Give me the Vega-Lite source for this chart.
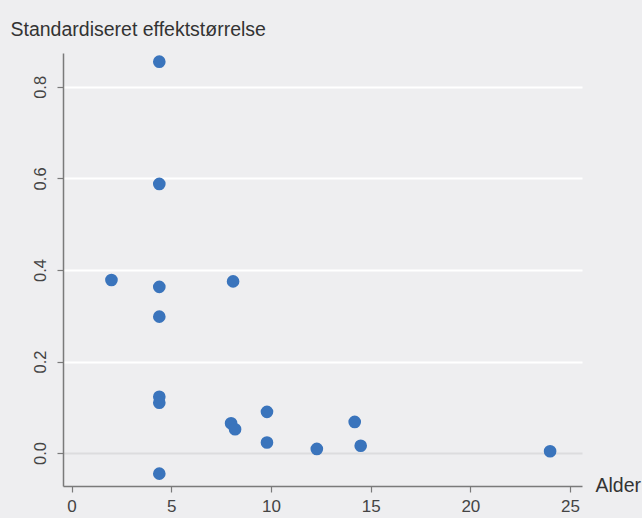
{
  "$schema": "https://vega.github.io/schema/vega-lite/v6.json",
  "width": 519,
  "height": 433,
  "autosize": "none",
  "padding": {"left": 63, "top": 53, "right": 60, "bottom": 32},
  "background": "#eeeef0",
  "config": {
    "view": {"stroke": null, "fill": "#eeeef0"},
    "font": "Liberation Sans",
    "axis": {
      "labelFont": "Liberation Sans",
      "titleFont": "Liberation Sans",
      "labelColor": "#444444",
      "titleColor": "#333333",
      "titleFontWeight": "normal",
      "domainColor": "#7a7a7a",
      "domainWidth": 1.5,
      "tickColor": "#7a7a7a",
      "tickWidth": 1.2,
      "tickSize": 6
    }
  },
  "data": {
    "values": [
      {"alder": 4.4, "effekt": 0.855},
      {"alder": 4.4, "effekt": 0.588},
      {"alder": 2.0, "effekt": 0.378},
      {"alder": 4.4, "effekt": 0.363},
      {"alder": 8.1, "effekt": 0.375},
      {"alder": 4.4, "effekt": 0.298},
      {"alder": 4.4, "effekt": 0.123},
      {"alder": 4.4, "effekt": 0.11},
      {"alder": 4.4, "effekt": -0.045},
      {"alder": 8.0, "effekt": 0.065},
      {"alder": 8.2, "effekt": 0.052},
      {"alder": 9.8, "effekt": 0.09},
      {"alder": 9.8, "effekt": 0.023},
      {"alder": 12.3, "effekt": 0.009},
      {"alder": 14.2, "effekt": 0.068},
      {"alder": 14.5, "effekt": 0.016},
      {"alder": 24.0, "effekt": 0.004}
    ]
  },
  "mark": {"type": "point", "shape": "circle", "filled": true, "opacity": 1, "size": 160, "color": "#3a74bc"},
  "encoding": {
    "x": {
      "field": "alder",
      "type": "quantitative",
      "scale": {"domain": [-0.43, 25.6], "nice": false, "zero": false},
      "axis": {
        "values": [0, 5, 10, 15, 20, 25],
        "grid": false,
        "labelFontSize": 17,
        "labelPadding": 6,
        "title": "Alder",
        "titleFontSize": 19.5,
        "titleAlign": "left",
        "titleBaseline": "middle",
        "titleAngle": 0,
        "titleX": 532,
        "titleY": -1
      }
    },
    "y": {
      "field": "effekt",
      "type": "quantitative",
      "scale": {"domain": [-0.072, 0.874], "nice": false, "zero": false},
      "axis": {
        "values": [0, 0.2, 0.4, 0.6, 0.8],
        "format": ".1f",
        "grid": true,
        "gridColor": {"condition": {"test": "datum.value === 0", "value": "#dcdcde"}, "value": "#ffffff"},
        "gridWidth": 2.2,
        "labelFontSize": 16.5,
        "labelAngle": -90,
        "labelAlign": "center",
        "labelBaseline": "bottom",
        "labelPadding": 9,
        "title": "Standardiseret effektstørrelse",
        "titleFontSize": 19.5,
        "titleAngle": 0,
        "titleAlign": "left",
        "titleBaseline": "alphabetic",
        "titleX": -53,
        "titleY": -18
      }
    }
  }
}
